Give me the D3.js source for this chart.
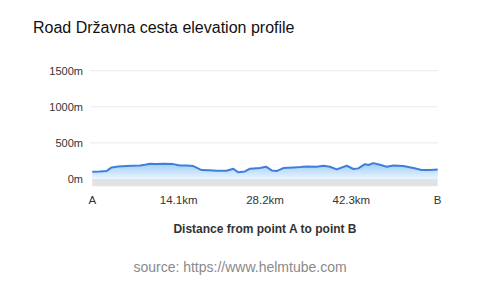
<!DOCTYPE html>
<html>
<head>
<meta charset="utf-8">
<script src="https://cdn.jsdelivr.net/npm/d3@7"></script>
<style>
  body { margin: 0; background: #fff; }
  svg { display: block; font-family: "Liberation Sans", Arial, sans-serif; }
</style>
</head>
<body>
<div id="chart"></div>
<script>
// distance along road (km) and elevation (m)
var distances = [0, 1.2, 2.34, 2.8, 3.16, 4.2, 5.61, 6.5, 7.78, 8.6, 9.42, 10.5, 11.6, 13.23, 14.32, 15.4, 16.5, 17.86, 19.0, 20.31, 21.94, 23.03, 23.84, 24.93, 25.75, 27.38, 28.36, 29.29, 30.1, 31.19, 32.83, 34.0, 35.0, 36.64, 37.73, 38.81, 39.9, 41.54, 42.63, 43.44, 44.53, 45.08, 45.89, 46.98, 48.07, 49.16, 50.79, 52.43, 53.79, 55.15, 56.4];
var elevations = [101, 104, 110, 140, 160, 172, 179, 184, 188, 198, 211, 208, 210, 206, 188, 186, 179, 124, 120, 115, 115, 142, 92, 105, 142, 151, 170, 119, 110, 151, 160, 166, 174, 170, 183, 170, 133, 183, 138, 147, 206, 193, 220, 197, 170, 188, 179, 151, 124, 124, 133];
var xTickValues = [0, 14.1, 28.2, 42.3, 56.4];
var xTickLabels = ["A", "14.1km", "28.2km", "42.3km", "B"];
var yTickValues = [0, 500, 1000, 1500];

var width = 480, height = 287;
var svg = d3.select("#chart").append("svg")
    .attr("width", width)
    .attr("height", height);

var x = d3.scaleLinear().domain([0, 56.4]).range([92.3, 437.7]);
var y = d3.scaleLinear().domain([-100, 1500]).range([186.2, 70.7]);

var data = distances.map(function(d, i) { return {d: d, e: elevations[i]}; });

// gradient for area
var defs = svg.append("defs");
var grad = defs.append("linearGradient")
    .attr("id", "areaGrad")
    .attr("x1", 0).attr("y1", 0).attr("x2", 0).attr("y2", 1);
grad.append("stop").attr("offset", "0%").attr("stop-color", "#9fcdf7");
grad.append("stop").attr("offset", "100%").attr("stop-color", "#eaf5fe");

// title
svg.append("text")
    .attr("x", 33).attr("y", 33)
    .attr("font-size", 16)
    .attr("fill", "#111")
    .text("Road Državna cesta elevation profile");

// grid
svg.append("g").selectAll("line")
    .data(yTickValues.filter(function(v) { return v > 0; }))
    .enter().append("line")
    .attr("x1", 90).attr("x2", 438)
    .attr("y1", function(d) { return y(d); })
    .attr("y2", function(d) { return y(d); })
    .attr("stroke", "#ebebeb")
    .attr("stroke-width", 1);

// ground band below 0
svg.append("rect")
    .attr("x", x(0)).attr("y", y(0))
    .attr("width", x(56.4) - x(0))
    .attr("height", y(-100) - y(0))
    .attr("fill", "#e2e2e2");

// area
var area = d3.area()
    .x(function(d) { return x(d.d); })
    .y0(y(0))
    .y1(function(d) { return y(d.e); });
svg.append("path").datum(data)
    .attr("d", area)
    .attr("fill", "url(#areaGrad)");

var line = d3.line()
    .x(function(d) { return x(d.d); })
    .y(function(d) { return y(d.e); });
svg.append("path").datum(data)
    .attr("d", line)
    .attr("fill", "none")
    .attr("stroke", "#3f7fdc")
    .attr("stroke-width", 2)
    .attr("stroke-linejoin", "round");

// y axis labels
svg.append("g").selectAll("text")
    .data(yTickValues)
    .enter().append("text")
    .attr("x", 83)
    .attr("y", function(d) { return y(d) + 4; })
    .attr("text-anchor", "end")
    .attr("font-size", 11)
    .attr("fill", "#333")
    .text(function(d) { return d + "m"; });

// x axis labels
svg.append("g").selectAll("text")
    .data(xTickValues)
    .enter().append("text")
    .attr("x", function(d) { return x(d); })
    .attr("y", 204)
    .attr("text-anchor", "middle")
    .attr("font-size", 11.5)
    .attr("fill", "#333")
    .text(function(d, i) { return xTickLabels[i]; });

// axis title
svg.append("text")
    .attr("x", 265).attr("y", 233)
    .attr("text-anchor", "middle")
    .attr("font-size", 12)
    .attr("font-weight", "bold")
    .attr("fill", "#333")
    .text("Distance from point A to point B");

// source
svg.append("text")
    .attr("x", 240).attr("y", 272)
    .attr("text-anchor", "middle")
    .attr("font-size", 14)
    .attr("fill", "#8a8a8a")
    .text("source: https://www.helmtube.com");
</script>
</body>
</html>
